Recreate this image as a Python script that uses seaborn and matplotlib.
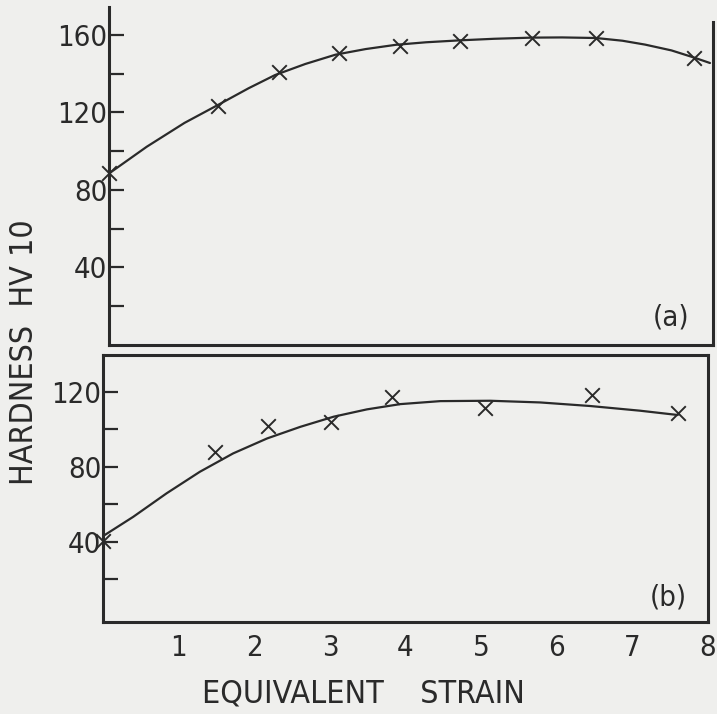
import numpy as np
import pandas as pd
import matplotlib
matplotlib.use("Agg")
import matplotlib.pyplot as plt
import seaborn as sns

# ---- data ----
# panel (a) measured points
a_strain = [0.0, 1.45, 2.25, 3.05, 3.85, 4.65, 5.6, 6.45, 7.75]
a_hard = [88.5, 123.5, 141, 150.5, 154.5, 157, 158.4, 158.4, 148]
# panel (a) hand-drawn fitted curve
a_curve_x = [0.0, 0.5, 1.0, 1.45, 1.85, 2.2, 2.6, 3.0, 3.4, 3.8, 4.2, 4.65, 5.1, 5.6, 6.0, 6.45, 6.8, 7.1, 7.45, 7.75, 7.96]
a_curve_y = [88.5, 102.3, 114.6, 124, 132.5, 139.3, 145, 149.8, 152.7, 154.9, 156.2, 157.2, 158, 158.6, 158.7, 158.4, 157, 155, 152, 148.3, 145.5]
# panel (b) measured points
b_strain = [0.0, 1.48, 2.18, 3.02, 3.82, 5.05, 6.46, 7.6]
b_hard = [40.5, 88, 101.7, 104, 117, 111.1, 118.2, 108.8]
# panel (b) fitted curve
b_curve_x = [0.0, 0.4, 0.84, 1.28, 1.72, 2.17, 2.61, 3.05, 3.49, 3.93, 4.46, 5.12, 5.78, 6.44, 7.1, 7.6]
b_curve_y = [43, 53.3, 65.8, 77.3, 87.1, 95.1, 101.3, 106.7, 110.6, 113.4, 115, 115.2, 114.3, 112.4, 109.9, 107.6]

x_ticks = [1, 2, 3, 4, 5, 6, 7, 8]
a_yticks = [40, 80, 120, 160]
a_yminor = [20, 60, 100, 140]
b_yticks = [40, 80, 120]
b_yminor = [20, 60, 100]

# ---- style ----
sns.set_theme(style="ticks")
plt.rcParams["font.family"] = ["DejaVu Sans"]
plt.rcParams["font.stretch"] = "condensed"
bg = "#efefed"
ink = "#2a2a2a"
plt.rcParams["figure.facecolor"] = bg
plt.rcParams["axes.facecolor"] = bg
FS = 21
LFS = 23

fig = plt.figure(figsize=(7.17, 7.14), dpi=100)
ax_a = fig.add_axes([109 / 717, 1 - 345 / 714, (713 - 109) / 717, (345 - 7) / 714])
ax_b = fig.add_axes([103 / 717, 1 - 622 / 714, (708 - 103) / 717, (622 - 355) / 714])

da_pts = pd.DataFrame({"x": a_strain, "y": a_hard})
da_cur = pd.DataFrame({"x": a_curve_x, "y": a_curve_y})
db_pts = pd.DataFrame({"x": b_strain, "y": b_hard})
db_cur = pd.DataFrame({"x": b_curve_x, "y": b_curve_y})

for ax, pts, cur in [(ax_a, da_pts, da_cur), (ax_b, db_pts, db_cur)]:
    sns.lineplot(data=cur, x="x", y="y", ax=ax, color=ink, linewidth=1.6, sort=False)
    sns.scatterplot(data=pts, x="x", y="y", ax=ax, marker="x", s=110, color=ink,
                    linewidth=1.4, zorder=5, clip_on=False)
    ax.set_xlim(0, 8)
    ax.set_xlabel("")
    ax.set_ylabel("")
    for sp in ax.spines.values():
        sp.set_linewidth(2.2)
        sp.set_color(ink)

# top panel
ax_a.set_ylim(0, 174.4)
ax_a.spines["top"].set_visible(False)
ax_a.spines["right"].set_bounds(0, 166.7)
ax_a.set_yticks(a_yticks)
ax_a.set_yticks(a_yminor, minor=True)
ax_a.set_xticks([])
ax_a.tick_params(axis="y", which="both", direction="in", length=11, width=1.6,
                 color=ink, labelsize=FS, labelcolor=ink, pad=1)
ax_a.text(0.93, 0.08, "(a)", transform=ax_a.transAxes, fontsize=FS, color=ink,
          ha="center", va="center")

# bottom panel
ax_b.set_ylim(-2.8, 139.6)
ax_b.set_yticks(b_yticks)
ax_b.set_yticks(b_yminor, minor=True)
ax_b.set_xticks(x_ticks)
ax_b.tick_params(axis="y", which="both", direction="in", length=11, width=1.6,
                 color=ink, labelsize=FS, labelcolor=ink, pad=1)
ax_b.tick_params(axis="x", length=0, labelsize=FS, labelcolor=ink, pad=9)
ax_b.text(0.934, 0.092, "(b)", transform=ax_b.transAxes, fontsize=FS, color=ink,
          ha="center", va="center")

fig.text(25 / 717, 1 - 352 / 714, "HARDNESS  HV 10", rotation=90, fontsize=LFS,
         color=ink, ha="center", va="center")
fig.text(363 / 717, 1 - 694 / 714, "EQUIVALENT    STRAIN", fontsize=LFS,
         color=ink, ha="center", va="center")

fig.savefig("out.png", dpi=100, facecolor=bg)
